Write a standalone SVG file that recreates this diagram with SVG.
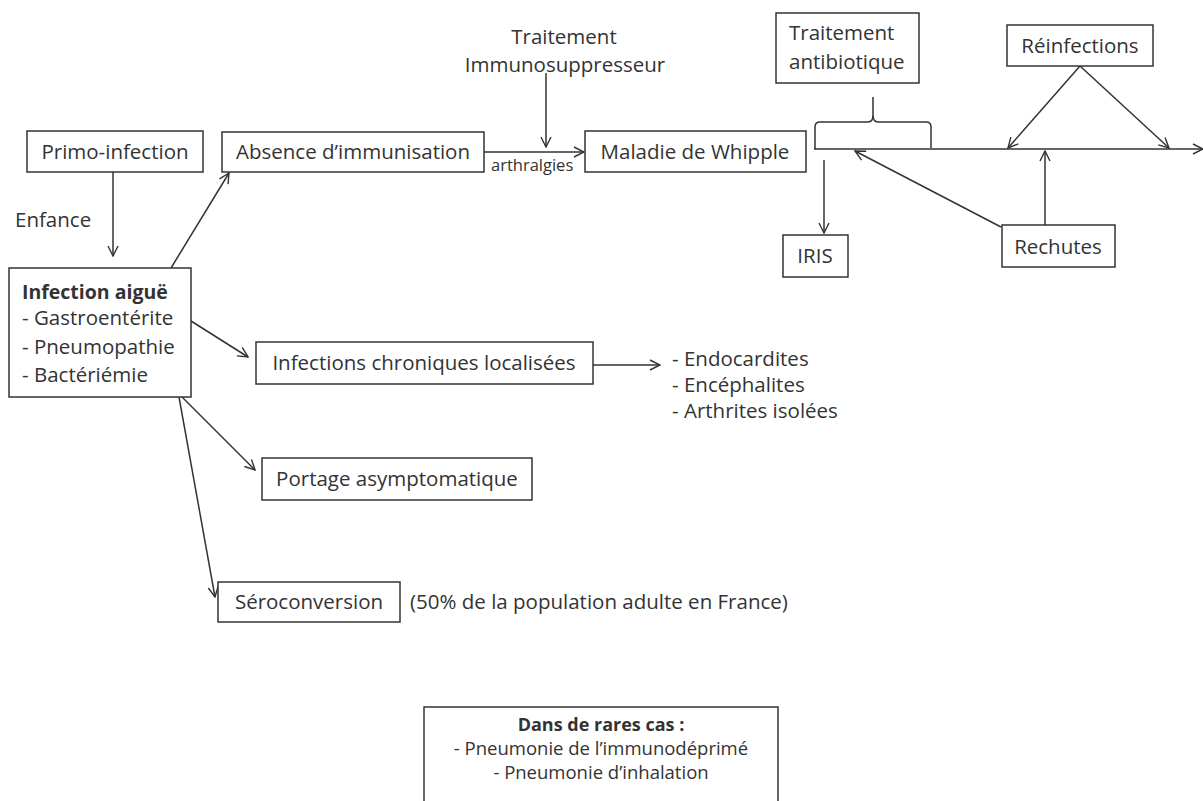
<svg xmlns="http://www.w3.org/2000/svg" width="1203" height="801" viewBox="0 0 1203 801">
<defs>
<marker id="ah" viewBox="0 0 12 12" refX="11" refY="6" markerWidth="12" markerHeight="12" markerUnits="userSpaceOnUse" orient="auto">
<path d="M1,1 L11,6 L1,11" fill="none" stroke="#333" stroke-width="1.4"/>
</marker>
<style>
.b{fill:#fff;stroke:#333;stroke-width:1.5}
.t{font-family:"Open Sans","Liberation Sans",sans-serif;font-size:20.5px;fill:#333}
.m{text-anchor:middle}
.bold{font-weight:bold;font-size:19.5px}
.s{font-size:18.5px}
.c{fill:none;stroke:#333;stroke-width:1.5}
</style>
</defs>
<rect width="1203" height="801" fill="#fff"/>
<g id="connectors">
<line class="c" x1="113" y1="172" x2="113" y2="256" marker-end="url(#ah)"/>
<line class="c" x1="171" y1="268" x2="229" y2="173" marker-end="url(#ah)"/>
<line class="c" x1="484" y1="152" x2="584" y2="152" marker-end="url(#ah)"/>
<line class="c" x1="546" y1="73" x2="546" y2="147" marker-end="url(#ah)"/>
<line class="c" x1="191" y1="321" x2="248" y2="357" marker-end="url(#ah)"/>
<line class="c" x1="593" y1="365" x2="660" y2="365" marker-end="url(#ah)"/>
<line class="c" x1="182" y1="397" x2="255" y2="470" marker-end="url(#ah)"/>
<line class="c" x1="179" y1="397" x2="215" y2="597" marker-end="url(#ah)"/>
<line class="c" x1="814" y1="149" x2="1203" y2="149" marker-end="url(#ah)"/>
<path class="c" d="M815,149 L815,127 Q815,122 820,122 L868,122 Q873,122 873,115 L873,97 M873,115 Q873,122 878,122 L926,122 Q931,122 931,127 L931,148"/>
<line class="c" x1="824" y1="160" x2="824" y2="233" marker-end="url(#ah)"/>
<line class="c" x1="1080" y1="66" x2="1008" y2="148" marker-end="url(#ah)"/>
<line class="c" x1="1080" y1="66" x2="1169" y2="148" marker-end="url(#ah)"/>
<line class="c" x1="1045" y1="225" x2="1045" y2="151" marker-end="url(#ah)"/>
<line class="c" x1="1001" y1="227" x2="855" y2="151" marker-end="url(#ah)"/>
</g>
<g id="primo"><rect class="b" x="27" y="131" width="176" height="41"/><text class="t m" x="115" y="159">Primo-infection</text></g>
<text class="t" x="15" y="227">Enfance</text>
<g id="absence"><rect class="b" x="222" y="132" width="262" height="40"/><text class="t m" x="353" y="159">Absence d’immunisation</text></g>
<text class="t" x="491" y="171" style="font-size:16.5px">arthralgies</text>
<g id="whipple"><rect class="b" x="585" y="131" width="221" height="41"/><text class="t m" x="695" y="159">Maladie de Whipple</text></g>
<g id="immuno"><text class="t m" x="564" y="44">Traitement</text><text class="t m" x="565" y="72">Immunosuppresseur</text></g>
<g id="antibio"><rect class="b" x="776" y="13" width="143" height="70"/><text class="t" x="789" y="40">Traitement</text><text class="t" x="789" y="69">antibiotique</text></g>
<g id="reinfections"><rect class="b" x="1007" y="25" width="146" height="41"/><text class="t m" x="1080" y="53">Réinfections</text></g>
<g id="rechutes"><rect class="b" x="1002" y="225" width="113" height="42"/><text class="t m" x="1058" y="254">Rechutes</text></g>
<g id="iris"><rect class="b" x="783" y="235" width="65" height="42"/><text class="t m" x="815" y="263">IRIS</text></g>
<g id="aigue"><rect class="b" x="9" y="268" width="182" height="129"/>
<text class="t bold" x="22" y="299">Infection aiguë</text>
<text class="t" x="22" y="325">- Gastroentérite</text>
<text class="t" x="22" y="354">- Pneumopathie</text>
<text class="t" x="22" y="382">- Bactériémie</text></g>
<g id="chroniques"><rect class="b" x="256" y="342" width="337" height="42"/><text class="t m" x="424" y="370">Infections chroniques  localisées</text></g>
<g id="liste"><text class="t" x="672" y="366">- Endocardites</text><text class="t" x="672" y="392">- Encéphalites</text><text class="t" x="672" y="418">- Arthrites isolées</text></g>
<g id="portage"><rect class="b" x="262" y="458" width="270" height="42"/><text class="t m" x="397" y="486">Portage asymptomatique</text></g>
<g id="sero"><rect class="b" x="218" y="582" width="182" height="40"/><text class="t m" x="309" y="609">Séroconversion</text></g>
<text class="t" x="410" y="609">(50% de la population adulte en France)</text>
<g id="rares"><rect class="b" x="424" y="707" width="354" height="100"/>
<text class="t m bold" x="601" y="731" style="font-size:18px">Dans de rares cas :</text>
<text class="t m s" x="601" y="755">- Pneumonie de l’immunodéprimé</text>
<text class="t m s" x="601" y="779">- Pneumonie d’inhalation</text></g>
</svg>
